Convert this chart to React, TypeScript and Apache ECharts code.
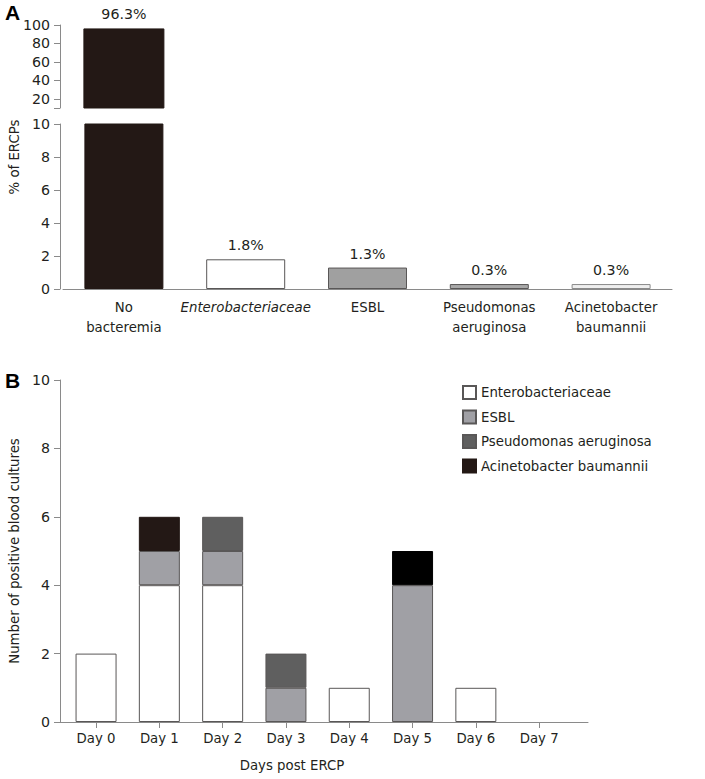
import React, { useEffect, useRef } from "react";
import * as echarts from "echarts";

// Panel A data
const categoriesA = ["No\nbacteremia", "Enterobacteriaceae", "ESBL", "Pseudomonas\naeruginosa", "Acinetobacter\nbaumannii"];
const percentA = [96.3, 1.8, 1.3, 0.3, 0.3];
const upperTickValues = [10, 20, 40, 60, 80, 100];
const upperLabelValues = [20, 40, 60, 80, 100];

// Panel B data
const days = ["Day 0", "Day 1", "Day 2", "Day 3", "Day 4", "Day 5", "Day 6", "Day 7"];
const enterobacteriaceae = [2, 4, 4, null, 1, null, 1, null];
const esbl = [null, 1, 1, 1, null, 4, null, null];
const pseudomonas = [null, null, 1, 1, null, null, null, null];
const acinetobacter = [null, 1, null, null, null, 1, null, null];

const FONT = "DejaVu Sans";
const FS = 13.3;
const NFS = 14.2;
const TXT = "#231f20";
const AXIS = "#8a8a8a";
const EDGE = "#595757";

const fillsA = ["#231815", "#ffffff", "#a0a0a0", "#a9a9a9", "#efefef"];
const edgesA = ["#231815", EDGE, EDGE, EDGE, "#8a8a8a"];

export default function App() {
  const ref = useRef<HTMLDivElement>(null);
  useEffect(() => {
    if (!ref.current) return;
    const chart = echarts.init(ref.current, null, { renderer: "svg" });
    const baseText = { fontFamily: FONT, fontSize: FS, color: TXT };
    const numText = { fontFamily: FONT, fontSize: NFS, color: TXT };
    const nz = (arr: (number | null)[]) => arr.map((v) => (v == null ? "-" : v));

    const option: any = {
      animation: false,
      backgroundColor: "#ffffff",
      textStyle: { fontFamily: FONT },
      grid: [
        { left: 63, width: 609, top: 25, height: 83 },
        { left: 63, width: 609, top: 124, height: 165 },
        { left: 60, width: 528, top: 380, height: 342 },
        { left: 64.4, width: 506.4, top: 380, height: 342 },
      ],
      xAxis: [
        { gridIndex: 0, type: "category", data: categoriesA, show: false },
        {
          gridIndex: 1,
          type: "category",
          data: categoriesA,
          axisLine: { lineStyle: { color: AXIS, width: 1 } },
          axisTick: { alignWithLabel: true, length: 6, lineStyle: { color: AXIS } },
          axisLabel: {
            ...baseText,
            margin: 8,
            lineHeight: 20,
            interval: 0,
            formatter: (v: string) => (v === "Enterobacteriaceae" ? "{i|" + v + "}" : v),
            rich: { i: { ...baseText, fontStyle: "italic", lineHeight: 20 } },
          },
        },
        {
          gridIndex: 2,
          type: "value",
          min: 0,
          max: 1,
          axisLine: { show: true, lineStyle: { color: AXIS, width: 1 } },
          axisTick: { show: false },
          axisLabel: { show: false },
          splitLine: { show: false },
        },
        {
          gridIndex: 3,
          type: "category",
          data: days,
          axisLine: { show: false },
          axisTick: { show: true, alignWithLabel: true, length: 6, lineStyle: { color: AXIS } },
          axisLabel: { ...baseText, margin: 10, interval: 0 },
        },
      ],
      yAxis: [
        {
          gridIndex: 0,
          type: "value",
          min: 10,
          max: 100,
          offset: 3,
          axisLine: { show: true, lineStyle: { color: AXIS } },
          axisTick: { show: true, length: 6, lineStyle: { color: AXIS }, customValues: upperTickValues },
          axisLabel: { ...numText, margin: 10, customValues: upperLabelValues },
          splitLine: { show: false },
        },
        {
          gridIndex: 1,
          type: "value",
          min: 0,
          max: 10,
          interval: 2,
          offset: 3,
          axisLine: { show: true, lineStyle: { color: AXIS } },
          axisTick: { show: true, length: 6, lineStyle: { color: AXIS } },
          axisLabel: { ...numText, margin: 10 },
          splitLine: { show: false },
        },
        {
          gridIndex: 2,
          type: "value",
          min: 0,
          max: 10,
          interval: 2,
          axisLine: { show: true, lineStyle: { color: AXIS } },
          axisTick: { show: true, length: 6, lineStyle: { color: AXIS } },
          axisLabel: { ...numText, margin: 10 },
          splitLine: { show: false },
        },
        { gridIndex: 3, type: "value", min: 0, max: 10, show: false, splitLine: { show: false } },
      ],
      legend: {
        orient: "vertical",
        left: 457,
        top: 380,
        itemWidth: 13,
        itemHeight: 13,
        itemGap: 9.5,
        icon: "rect",
        textStyle: { ...baseText },
        data: ["Enterobacteriaceae", "ESBL", "Pseudomonas aeruginosa", "Acinetobacter baumannii"],
      },
      graphic: [
        { type: "text", left: 5, top: 2, style: { text: "A", font: "bold 21px 'Liberation Sans'", fill: "#000" } },
        { type: "text", left: 5, top: 370, style: { text: "B", font: "bold 21px 'Liberation Sans'", fill: "#000" } },
        {
          type: "text",
          x: 14,
          y: 157,
          rotation: Math.PI / 2,
          style: { text: "% of ERCPs", font: `${FS}px '${FONT}'`, fill: TXT, align: "center", verticalAlign: "middle" },
        },
        {
          type: "text",
          x: 14,
          y: 551,
          rotation: Math.PI / 2,
          style: {
            text: "Number of positive blood cultures",
            font: `${FS}px '${FONT}'`,
            fill: TXT,
            align: "center",
            verticalAlign: "middle",
          },
        },
        {
          type: "text",
          x: 292,
          y: 765,
          style: { text: "Days post ERCP", font: `${FS}px '${FONT}'`, fill: TXT, align: "center", verticalAlign: "middle" },
        },
      ],
      series: [
        {
          type: "bar",
          xAxisIndex: 0,
          yAxisIndex: 0,
          barWidth: 81,
          clip: true,
          data: percentA.map((v, i) =>
            i === 0 ? { value: v, itemStyle: { color: fillsA[i], borderColor: edgesA[i], borderWidth: 1 } } : "-"
          ),
          label: { show: true, position: "top", distance: 7, ...numText, formatter: "{c}%" },
        },
        {
          type: "bar",
          xAxisIndex: 1,
          yAxisIndex: 1,
          barWidth: 79,
          clip: true,
          data: percentA.map((v, i) => ({
            value: v,
            itemStyle: { color: fillsA[i], borderColor: edgesA[i], borderWidth: 1 },
            label: { show: i > 0 },
          })),
          label: { show: true, position: "top", distance: 7, ...numText, formatter: "{c}%" },
        },
        {
          name: "Enterobacteriaceae",
          type: "bar",
          stack: "b",
          xAxisIndex: 3,
          yAxisIndex: 3,
          barWidth: 41,
          itemStyle: { color: "#ffffff", borderColor: EDGE, borderWidth: 1 },
          data: nz(enterobacteriaceae),
        },
        {
          name: "ESBL",
          type: "bar",
          stack: "b",
          xAxisIndex: 3,
          yAxisIndex: 3,
          barWidth: 41,
          itemStyle: { color: "#a0a0a5", borderColor: EDGE, borderWidth: 1 },
          data: nz(esbl),
        },
        {
          name: "Pseudomonas aeruginosa",
          type: "bar",
          stack: "b",
          xAxisIndex: 3,
          yAxisIndex: 3,
          barWidth: 41,
          itemStyle: { color: "#5f5f5f", borderColor: EDGE, borderWidth: 1 },
          data: nz(pseudomonas),
        },
        {
          name: "Acinetobacter baumannii",
          type: "bar",
          stack: "b",
          xAxisIndex: 3,
          yAxisIndex: 3,
          barWidth: 41,
          itemStyle: { color: "#231815", borderColor: "#231815", borderWidth: 1 },
          data: acinetobacter.map((v, i) =>
            v == null ? "-" : i === 5 ? { value: v, itemStyle: { color: "#000000", borderColor: "#000000" } } : v
          ),
        },
      ],
    };
    chart.setOption(option);
    return () => chart.dispose();
  }, []);
  return <div ref={ref} style={{ position: "fixed", left: 0, top: 0, width: 705, height: 779, background: "#fff" }} />;
}
